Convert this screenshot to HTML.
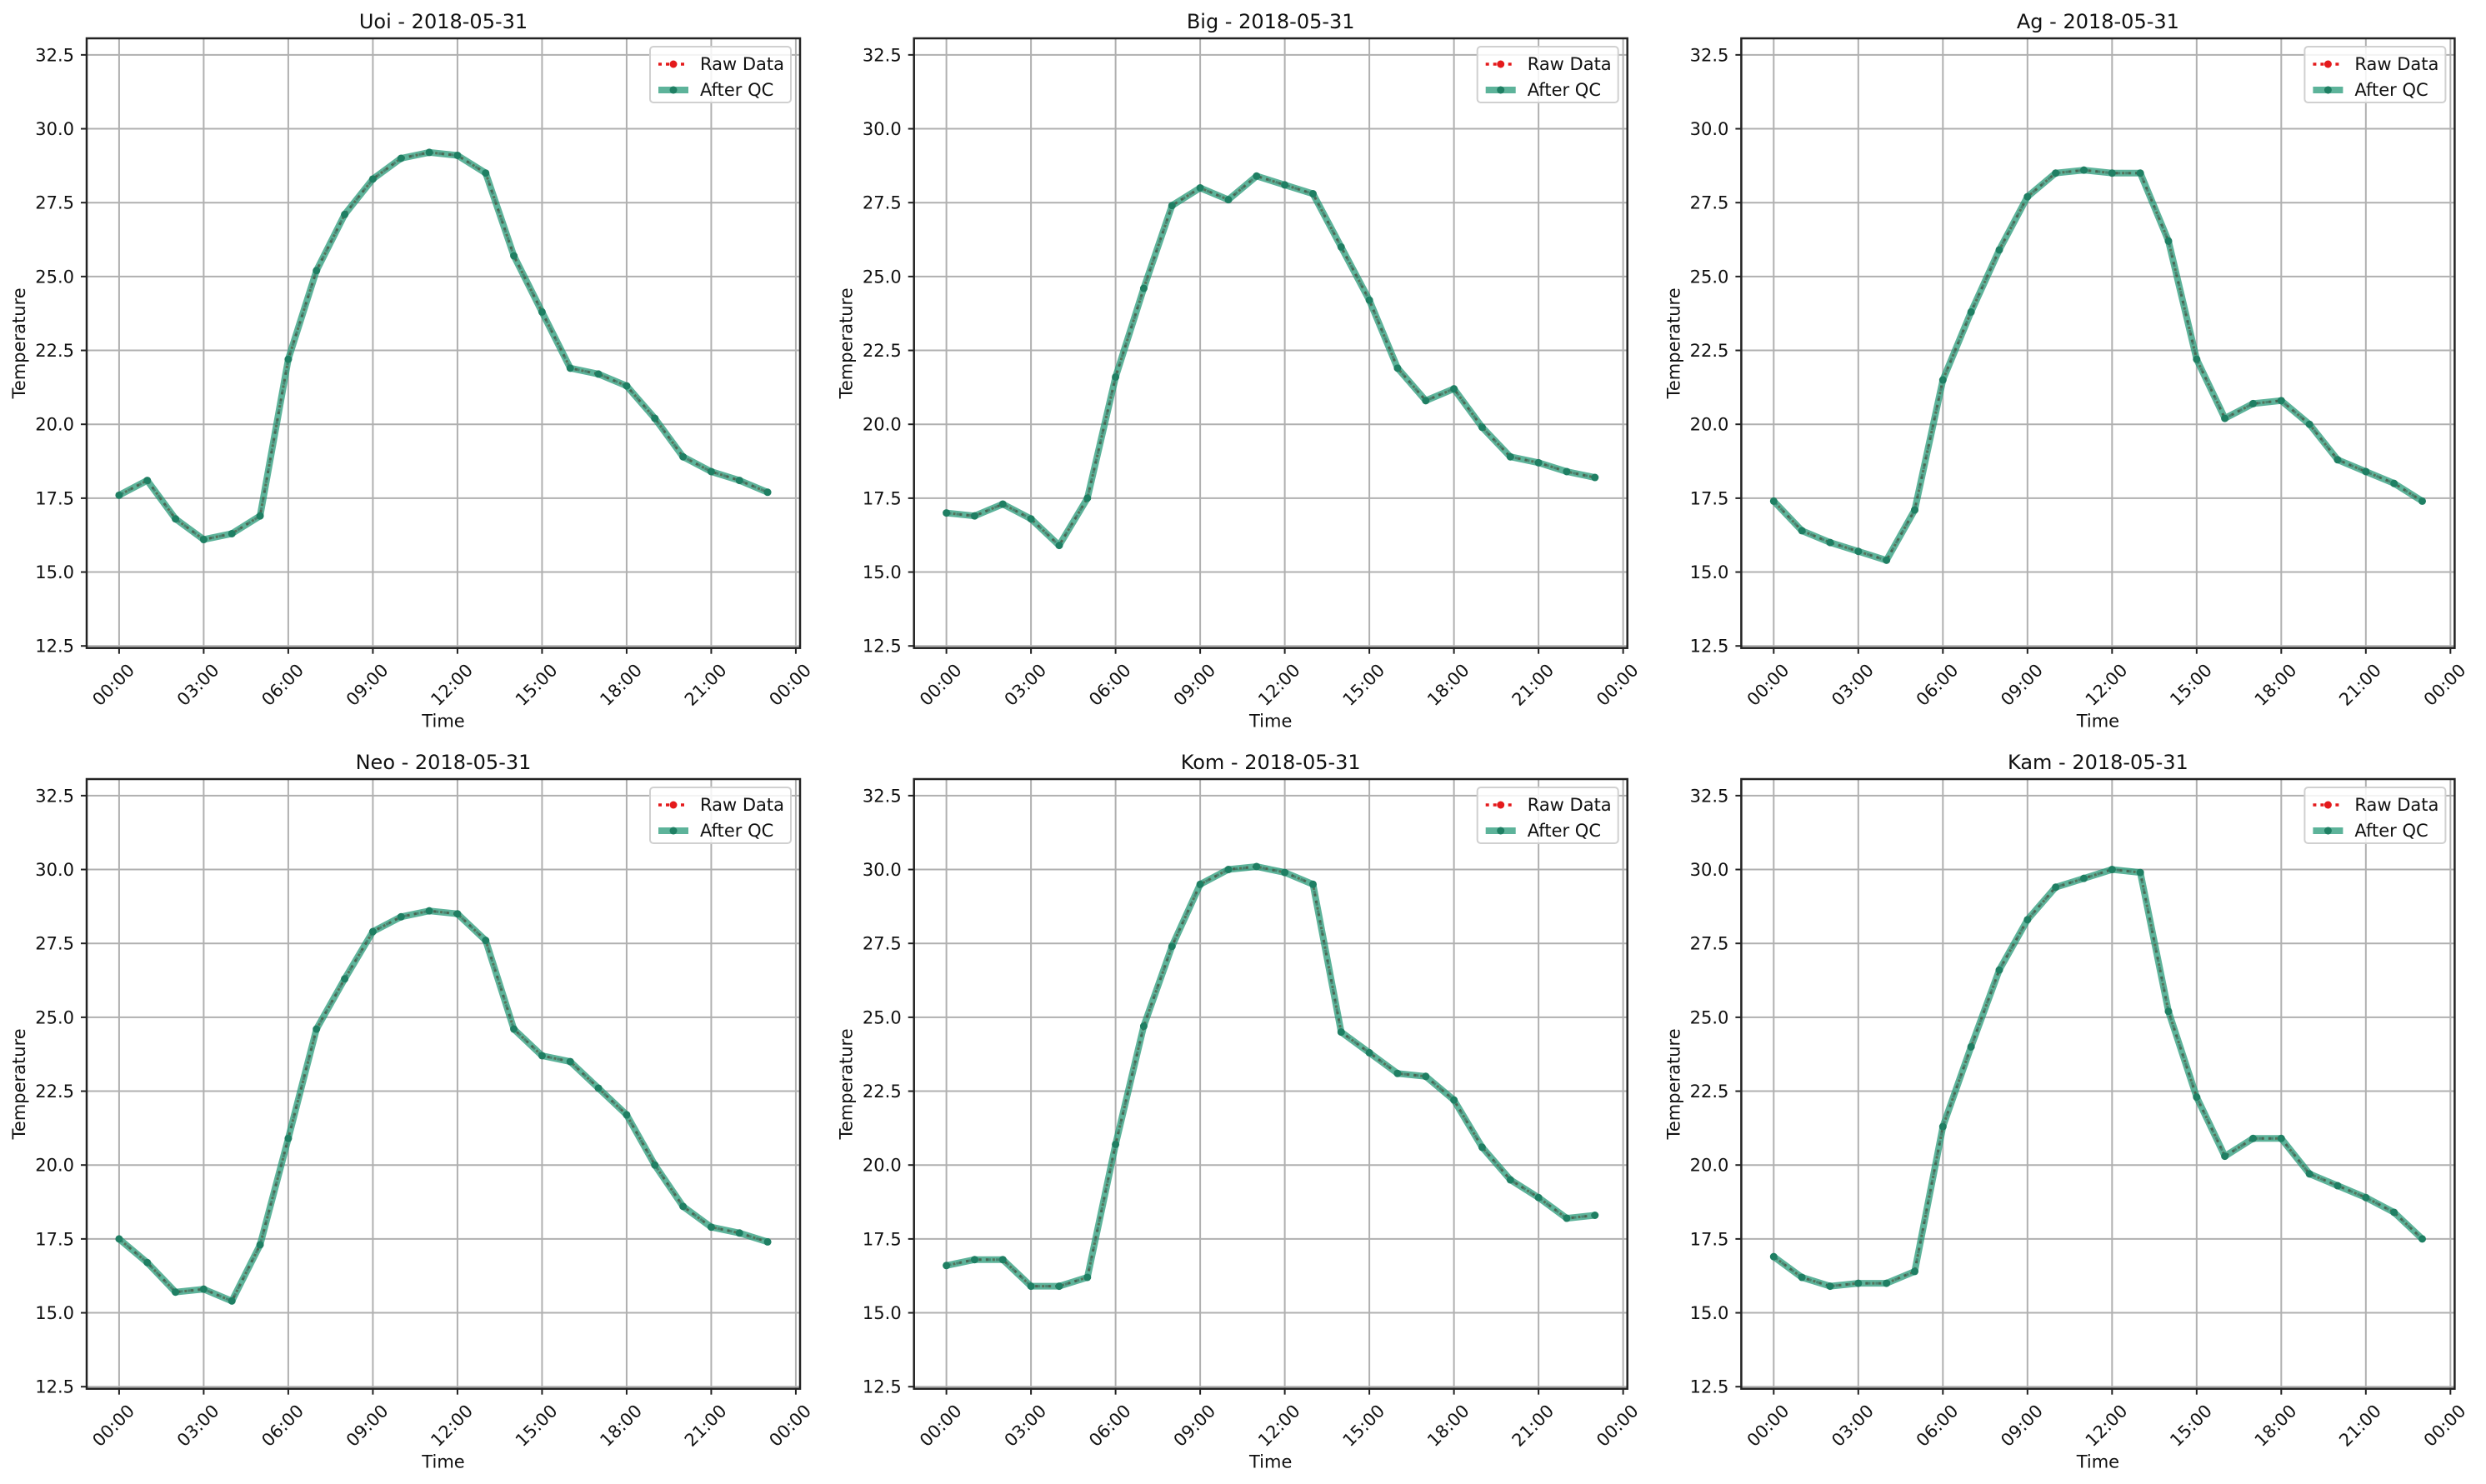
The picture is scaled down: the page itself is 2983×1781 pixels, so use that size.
<!DOCTYPE html>
<html><head><meta charset="utf-8">
<style>
html,body{margin:0;padding:0;background:#fff;}
svg{display:block;font-family:"DejaVu Sans","Liberation Sans",sans-serif;}
</style></head>
<body>
<svg id="fig" width="2983" height="1781" viewBox="0 0 2983 1781" xmlns="http://www.w3.org/2000/svg"></svg>
<script>
const stations = ["Uoi","Big","Ag","Neo","Kom","Kam"];
const dateLabel = "2018-05-31";
const hours = [0,1,2,3,4,5,6,7,8,9,10,11,12,13,14,15,16,17,18,19,20,21,22,23];
const uoiTemps = [17.6,18.1,16.8,16.1,16.3,16.9,22.2,25.2,27.1,28.3,29.0,29.2,29.1,28.5,25.7,23.8,21.9,21.7,21.3,20.2,18.9,18.4,18.1,17.7];
const bigTemps = [17.0,16.9,17.3,16.8,15.9,17.5,21.6,24.6,27.4,28.0,27.6,28.4,28.1,27.8,26.0,24.2,21.9,20.8,21.2,19.9,18.9,18.7,18.4,18.2];
const agTemps = [17.4,16.4,16.0,15.7,15.4,17.1,21.5,23.8,25.9,27.7,28.5,28.6,28.5,28.5,26.2,22.2,20.2,20.7,20.8,20.0,18.8,18.4,18.0,17.4];
const neoTemps = [17.5,16.7,15.7,15.8,15.4,17.3,20.9,24.6,26.3,27.9,28.4,28.6,28.5,27.6,24.6,23.7,23.5,22.6,21.7,20.0,18.6,17.9,17.7,17.4];
const komTemps = [16.6,16.8,16.8,15.9,15.9,16.2,20.7,24.7,27.4,29.5,30.0,30.1,29.9,29.5,24.5,23.8,23.1,23.0,22.2,20.6,19.5,18.9,18.2,18.3];
const kamTemps = [16.9,16.2,15.9,16.0,16.0,16.4,21.3,24.0,26.6,28.3,29.4,29.7,30.0,29.9,25.2,22.3,20.3,20.9,20.9,19.7,19.3,18.9,18.4,17.5];
const yTicks = [12.5,15.0,17.5,20.0,22.5,25.0,27.5,30.0,32.5];
const xTickHours = [0,3,6,9,12,15,18,21,24];
const xTickLabels = ["00:00","03:00","06:00","09:00","12:00","15:00","18:00","21:00","00:00"];
const series = [uoiTemps,bigTemps,agTemps,neoTemps,komTemps,kamTemps];

const NS="http://www.w3.org/2000/svg";
const svg=document.getElementById('fig');
function mk(tag,attrs,parent){const e=document.createElementNS(NS,tag);for(const k in attrs)e.setAttribute(k,attrs[k]);(parent||svg).appendChild(e);return e;}

const W=856, H=731.7, XMIN=-1.15, XMAX=24.15, YMIN=12.43, YMAX=33.06;
const QC='rgba(30,150,115,0.72)';
stations.forEach((st,i)=>{
  const col=i%3,row=Math.floor(i/3);
  const L=104+col*992.7, T=46+row*889;
  const g=mk('g',{});
  
  
  const sx=h=>L+(h-XMIN)/(XMAX-XMIN)*W;
  const sy=v=>T+(YMAX-v)/(YMAX-YMIN)*H;
  xTickHours.forEach((h,k)=>{
    const x=sx(h);
    const gl=mk('line',{x1:x,x2:x,y1:T,y2:T+H,stroke:'#b0b0b0','stroke-width':2},g);
    
    
    mk('line',{x1:x,x2:x,y1:T+H,y2:T+H+7,stroke:'#222','stroke-width':2},g);
    const tx=x-6, ty=T+H+45;
    const t=mk('text',{x:tx,y:ty,'font-size':21,'text-anchor':'middle','dominant-baseline':'middle',fill:'#111',transform:`rotate(-45 ${tx} ${ty})`},g);
    t.textContent=xTickLabels[k];
    
    
  });
  yTicks.forEach(v=>{
    const y=sy(v);
    const gl=mk('line',{x1:L,x2:L+W,y1:y,y2:y,stroke:'#b0b0b0','stroke-width':2},g);
    
    
    mk('line',{x1:L-7,x2:L,y1:y,y2:y,stroke:'#222','stroke-width':2},g);
    const t=mk('text',{x:L-15,y:y+7.5,'font-size':21,'text-anchor':'end',fill:'#111'},g);
    t.textContent=v.toFixed(1);
    
    
  });
  const data=series[i];
  const pts=hours.map((h,k)=>sx(h).toFixed(1)+','+sy(data[k]).toFixed(1)).join(' ');
  const raw=mk('polyline',{points:pts,fill:'none',stroke:'#e41a1c','stroke-width':3,'stroke-dasharray':'3,5'},g);
  
  
  const qc=mk('polyline',{points:pts,fill:'none',stroke:QC,'stroke-width':8,'stroke-linejoin':'round'},g);
  
  
  const dots=mk('polyline',{points:pts,fill:'none',stroke:'rgba(60,90,75,0.5)','stroke-width':3,'stroke-dasharray':'6,6'},g);
  
  
  hours.forEach((h,k)=>{
    const c=mk('circle',{cx:sx(h),cy:sy(data[k]),r:4.5,fill:'#1f7f63'},g);
    
    
  });
  const fr=mk('rect',{x:L,y:T,width:W,height:H,fill:'none',stroke:'#222','stroke-width':2.5},g);
  
  
  const ti=mk('text',{x:L+W/2,y:T-12,'font-size':24,'text-anchor':'middle',fill:'#111'},g);
  ti.textContent=st+' - '+dateLabel;
  
  
  const xl=mk('text',{x:L+W/2,y:T+H+95,'font-size':21,'text-anchor':'middle',fill:'#111'},g);
  xl.textContent='Time';
  
  
  const yx=L-74, yy=T+H/2;
  const yl=mk('text',{x:yx,y:yy,'font-size':21,'text-anchor':'middle',fill:'#111',transform:`rotate(-90 ${yx} ${yy})`},g);
  yl.textContent='Temperature';
  
  
  const lg=mk('g',{},g);
  
  
  const lx=L+W-180, ly=T+10;
  mk('rect',{x:lx,y:ly,width:169,height:67,rx:4,fill:'rgba(255,255,255,0.85)',stroke:'#d0d0d0','stroke-width':2},lg);
  mk('line',{x1:lx+10,x2:lx+46,y1:ly+21,y2:ly+21,stroke:'#e41a1c','stroke-width':3.5,'stroke-dasharray':'4,5'},lg);
  mk('circle',{cx:lx+28,cy:ly+21,r:4.5,fill:'#e41a1c'},lg);
  const t1=mk('text',{x:lx+60,y:ly+28,'font-size':21,fill:'#111'},lg);
  t1.textContent='Raw Data';
  
  
  mk('line',{x1:lx+10,x2:lx+46,y1:ly+52,y2:ly+52,stroke:QC,'stroke-width':8},lg);
  mk('circle',{cx:lx+28,cy:ly+52,r:4.5,fill:'#1f7f63'},lg);
  const t2=mk('text',{x:lx+60,y:ly+59,'font-size':21,fill:'#111'},lg);
  t2.textContent='After QC';
  
  
});
</script>
</body></html>
